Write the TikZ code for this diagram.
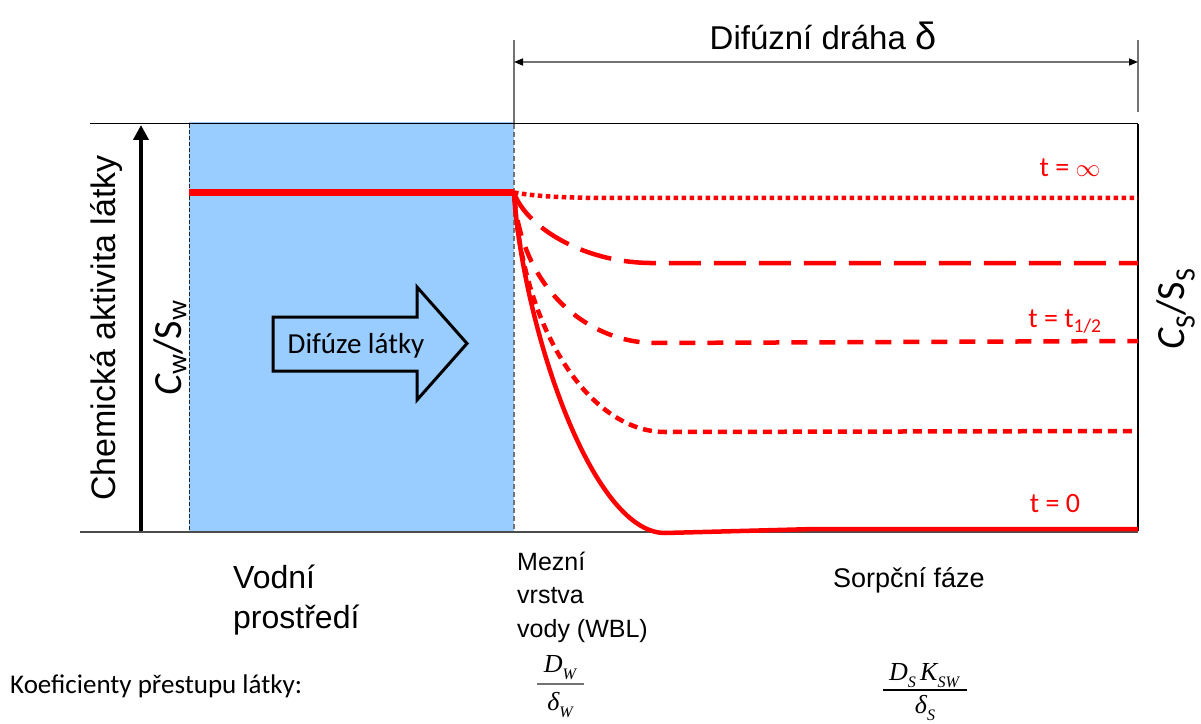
\documentclass[tikz,border=0pt]{standalone}
\usepackage{fontspec}
\setmainfont{Liberation Sans}
\newfontfamily\calfont{Carlito}
\newfontfamily\tmsfont{Liberation Serif}
\usetikzlibrary{arrows.meta}
\definecolor{wblue}{RGB}{153,204,255}
\definecolor{gline}{RGB}{115,115,115}
\definecolor{pred}{RGB}{255,0,0}
\newcommand\fsub[1]{\raisebox{-0.28em}{\fontsize{16bp}{17bp}\selectfont #1}}
\begin{document}
\begin{tikzpicture}[x=1bp,y=-1bp,
  curve/.style={pred, line width=4.5bp},
  lbl/.style={inner sep=0pt, anchor=base west},
  tlab/.style={inner sep=0pt, anchor=base, text=pred, font=\calfont\fontsize{28bp}{32bp}\selectfont},
  bigsans/.style={font=\fontsize{33bp}{40bp}\selectfont},
  midsans/.style={font=\fontsize{25bp}{30bp}\selectfont},
  cs/.style={inner sep=0pt, rotate=90, font=\calfont\fontsize{40bp}{46bp}\selectfont},
  frac/.style={inner sep=0pt, anchor=base, font=\tmsfont\itshape\fontsize{26bp}{28bp}\selectfont}]
\useasboundingbox (0,0) rectangle (1201,724);
\fill[white] (0,0) rectangle (1201,724);

% water area
\fill[wblue] (189,122) rectangle (514,531);
\draw[black!85, line width=0.8bp, dash pattern=on 4bp off 2bp] (189,124) -- (189,531);
\draw[gline, line width=1.2bp, dash pattern=on 5bp off 3bp] (514,124) -- (514,531);
\draw[gline, line width=1.2bp] (514,40) -- (514,124);

% frame lines
\draw[black, line width=1bp] (90,124) -- (1138,124);
\draw[black, line width=1.2bp] (1138,124) -- (1138,531);
\draw[gline, line width=1.2bp] (1138,40) -- (1138,112);
\draw[black!70, line width=2bp] (80,531.5) -- (1138,531.5);

% vertical axis arrow
\coordinate (ax0) at (141,531);
\coordinate (ax1) at (141,125);
\draw[black, line width=4bp, -{Triangle[length=15bp,width=15bp]}] (ax0) -- (ax1);

% dimension arrow
\coordinate (d0) at (514,62);
\coordinate (d1) at (1138,62);
\draw[gline, line width=1.5bp, {Triangle[length=9bp,width=7bp,color=black]}-{Triangle[length=9bp,width=7bp,color=black]}] (d0) -- (d1);
\node[bigsans, inner sep=0pt, anchor=base] (dd) at (823,50) {Difúzní dráha {\fontsize{38bp}{40bp}\selectfont δ}};

% water concentration
\coordinate (w0) at (189,192.5);
\coordinate (J) at (514,192.5);
\draw[pred, line width=7bp] (w0) -- (J);

% profiles
\draw[curve, dash pattern=on 4.5bp off 3.5bp] (J) .. controls (540,197) and (570,198) .. (620,198) -- (1138,198);
\draw[curve, dash pattern=on 32bp off 13bp] (J) .. controls (525,225) and (580,262) .. (650,263) -- (1138,263);
\draw[curve, dash pattern=on 16bp off 12bp] (J) .. controls (520,290) and (590,343) .. (655,343) -- (1138,341);
\draw[curve, dash pattern=on 9bp off 6bp] (J) .. controls (522,330) and (590,432) .. (665,432) -- (1138,431);
\draw[curve] (J) .. controls (522,320) and (590,533) .. (665,533) -- (815,529) -- (1138,529);

% time labels
\node[tlab] (tinf) at (1070,177) {t = $\infty$};
\node[tlab] (thalf) at (1065,327) {t = t\textsubscript{1/2}};
\node[tlab] (tzero) at (1055,512) {t = 0};

% diffusion arrow
\draw[black, line width=3bp, fill=wblue, line join=miter]
  (273,317) -- (417,317) -- (417,287) -- (467,343.5) -- (417,400) -- (417,371) -- (273,371) -- cycle;
\node[inner sep=0pt, anchor=base, font=\calfont\fontsize{29bp}{34bp}\selectfont] (dif) at (356,353) {Difúze látky};

% axis labels
\node[inner sep=0pt, rotate=90, font=\fontsize{34bp}{40bp}\selectfont] (chem) at (107,328) {Chemická aktivita látky};
\node[cs] (cw) at (170,348) {\itshape C\upshape\textsubscript{w}/S\textsubscript{w}};
\node[cs] (css) at (1176,309) {\itshape C\upshape\textsubscript{S}/S\textsubscript{S}};

% bottom labels
\node[lbl, font=\fontsize{32bp}{38bp}\selectfont] (vod1) at (233,588) {Vodní};
\node[lbl, font=\fontsize{32bp}{38bp}\selectfont] (vod2) at (233,628) {prostředí};
\node[lbl, midsans] (mez1) at (517,570) {Mezní};
\node[lbl, midsans] (mez2) at (517,603) {vrstva};
\node[lbl, midsans] (mez3) at (517,637) {vody (WBL)};
\node[lbl, font=\fontsize{27bp}{30bp}\selectfont] (sorp) at (833,587) {Sorpční fáze};
\node[lbl, font=\calfont\fontsize{27bp}{32bp}\selectfont] (koef) at (10,693) {Koeficienty přestupu látky:};

% fractions
\node[frac] (nw) at (560,672) {D\fsub{W}};
\coordinate (bw0) at (537,684);
\coordinate (bw1) at (584,684);
\draw[gline, line width=1.8bp] (bw0) -- (bw1);
\node[frac] (dw) at (560,710) {δ\fsub{W}};

\node[frac] (ns) at (924,680) {D\fsub{S}\,K\fsub{SW}};
\coordinate (bs0) at (883,690);
\coordinate (bs1) at (967,690);
\draw[black, line width=1.2bp] (bs0) -- (bs1);
\node[frac] (ds) at (925,713) {δ\fsub{S}};
\end{tikzpicture}
\end{document}
